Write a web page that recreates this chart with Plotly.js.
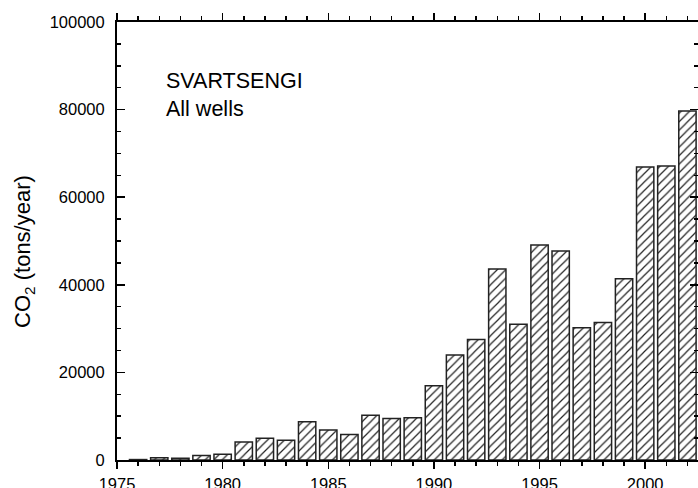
<!DOCTYPE html>
<html>
<head>
<meta charset="utf-8">
<script src="https://cdn.plot.ly/plotly-3.0.1.min.js"></script>
<style>html,body{margin:0;padding:0;background:#fff;overflow:hidden;}#chart{width:698px;height:488px;}</style>
</head>
<body>
<div id="chart"></div>
<script>
const years = [1976,1977,1978,1979,1980,1981,1982,1983,1984,1985,1986,1987,1988,1989,1990,1991,1992,1993,1994,1995,1996,1997,1998,1999,2000,2001,2002];
const co2 = [100,500,400,1000,1300,4100,4950,4500,8750,6850,5800,10200,9450,9650,16950,24000,27500,43600,31000,49100,47700,30200,31400,41400,66900,67100,79700];
const labelText = ["SVARTSENGI", "All wells"];
const yTitle = "CO<sub>2</sub> (tons/year)";

const font = "Liberation Sans, Arial, sans-serif";

const traces = [
  {
    type: 'bar',
    x: years,
    y: co2,
    width: 0.82,
    marker: {
      color: '#ffffff',
      line: {color: '#222', width: 1.5},
      pattern: {shape: '/', fgcolor: '#222', bgcolor: '#ffffff', size: 6, solidity: 0.2}
    },
    hoverinfo: 'x+y',
    showlegend: false
  }
];

const tickStyle = {tickwidth: 1.5, tickcolor: '#000'};

const layout = {
  width: 698,
  height: 488,
  margin: {l: 117, r: 0, t: 22, b: 28},
  paper_bgcolor: '#fff',
  plot_bgcolor: '#fff',
  font: {family: font, size: 16.5, color: '#000'},
  xaxis: Object.assign({
    side: 'bottom',
    range: [1975, 2002.5],
    dtick: 5,
    tick0: 1975,
    ticks: 'outside',
    ticklen: 7,
    showline: true,
    mirror: 'ticks',
    linewidth: 2,
    linecolor: '#000',
    showgrid: false,
    zeroline: false,
    minor: {dtick: 1, ticks: 'outside', ticklen: 4, tickwidth: 1.5, tickcolor: '#000', showgrid: false},
    tickfont: {family: font, size: 16.5},
    ticklabelstandoff: 1,
    fixedrange: true
  }, tickStyle),
  yaxis: Object.assign({
    range: [0, 100000],
    dtick: 20000,
    tickformat: 'd',
    exponentformat: 'none',
    ticks: 'inside',
    ticklen: 8,
    showline: true,
    linewidth: 2,
    linecolor: '#000',
    mirror: 'ticks',
    showgrid: false,
    zeroline: false,
    minor: {dtick: 5000, ticks: 'inside', ticklen: 4, tickwidth: 1.5, tickcolor: '#000', showgrid: false},
    tickfont: {family: font, size: 16.5},
    ticklabelstandoff: 7,
    fixedrange: true
  }, tickStyle),
  annotations: [
    {
      xref: 'paper', yref: 'paper',
      x: 0.0815, y: 0.897,
      xanchor: 'left', yanchor: 'top',
      align: 'left',
      showarrow: false,
      text: labelText.join('<br>'),
      font: {family: font, size: 21.5, color: '#000'}
    },
    {
      xref: 'paper', yref: 'paper',
      x: -0.161, y: 0.476,
      xanchor: 'center', yanchor: 'middle',
      textangle: -90,
      showarrow: false,
      text: yTitle,
      font: {family: font, size: 22, color: '#000'}
    }
  ]
};

Plotly.newPlot('chart', traces, layout, {displayModeBar: false, staticPlot: true});
</script>
</body>
</html>
